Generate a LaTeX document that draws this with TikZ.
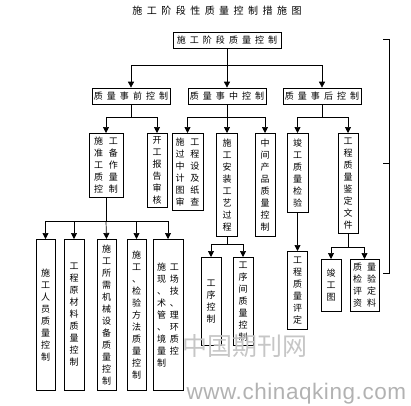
\documentclass[tikz,border=0pt]{standalone}
\usepackage{fontspec}
\setmainfont{Noto Sans CJK SC}[WordSpace=2]
\newfontfamily\webfont{Liberation Sans}[LetterSpace=2.5]
\usepackage{tikz}
\usetikzlibrary{arrows.meta, positioning}

\begin{document}
\begin{tikzpicture}[x=1pt, y=-1pt,
  qbox/.style={draw, line width=0.7pt, align=center, inner sep=1pt,
    font=\fontsize{9}{12}\selectfont, anchor=north},
  hbox/.style={qbox, minimum width=78pt, minimum height=16pt, anchor=center},
  arr/.style={-{Triangle[width=6pt, length=6pt]}, line width=0.7pt},
  mark line/.style={line width=0.7pt}
]
\useasboundingbox (0,0) rectangle (411,405);

% Title
\node[font=\fontsize{10}{12}\selectfont] (title) at (217,11)
  {施 工 阶 段 性 质 量 控 制 措 施 图};

% Top level
\node[hbox, minimum width=108pt] (top) at (227,40) {施 工 阶 段 质 量 控 制};

% Second level
\node[hbox] (pre)  at (131,96) {质 量 事 前 控 制};
\node[hbox] (mid)  at (227,96) {质 量 事 中 控 制};
\node[hbox] (post) at (322,96) {质 量 事 后 控 制};

% Third level
\node[qbox, minimum width=34pt, minimum height=64pt] (prep) at (106,133)
  {施\hspace{6pt}工\\准\hspace{6pt}备\\工\hspace{6pt}作\\质\hspace{6pt}量\\控\hspace{6pt}制};
\node[qbox, minimum width=20pt, minimum height=74pt] (start) at (157,133)
  {开\\工\\报\\告\\审\\核};
\node[qbox, minimum width=31pt, minimum height=77pt] (design) at (187.5,133)
  {施\hspace{6pt}工\\过\hspace{6pt}程\\中\hspace{6pt}设\\计\hspace{6pt}及\\图\hspace{6pt}纸\\审\hspace{6pt}查};
\node[qbox, minimum width=21pt, minimum height=103pt] (install) at (227,133)
  {施\\工\\安\\装\\工\\艺\\过\\程};
\node[qbox, minimum width=20pt, minimum height=103pt] (product) at (265,133)
  {中\\间\\产\\品\\质\\量\\控\\制};
\node[qbox, minimum width=21pt, minimum height=79pt] (check) at (297.5,133)
  {竣\\工\\质\\量\\检\\验};
\node[qbox, minimum width=20pt, minimum height=100pt] (appraise) at (348,133)
  {工\\程\\质\\量\\鉴\\定\\文\\件};

% Fourth level
\node[qbox, minimum width=19pt, minimum height=151pt] (staff) at (45.5,239)
  {施\\工\\人\\员\\质\\量\\控\\制};
\node[qbox, minimum width=20pt, minimum height=151pt] (material) at (74,239)
  {工\\程\\原\\材\\料\\质\\量\\控\\制};
\node[qbox, minimum width=19pt, minimum height=151pt] (machine) at (106.5,239)
  {施\\工\\所\\需\\机\\械\\设\\备\\质\\量\\控\\制};
\node[qbox, minimum width=19pt, minimum height=151pt] (method) at (136.5,239)
  {施\\工\\、\\检\\验\\方\\法\\质\\量\\控\\制};
\node[qbox, minimum width=30pt, minimum height=151pt] (site) at (168,239)
  {施\hspace{4pt}工\\现\hspace{4pt}场\\、\hspace{4pt}技\\术\hspace{4pt}、\\管\hspace{4pt}理\\、\hspace{4pt}环\\境\hspace{4pt}质\\量\hspace{4pt}控\\制\hspace{4pt}\phantom{控}};
\node[qbox, minimum width=20pt, minimum height=88pt] (proc) at (211,257)
  {工\\序\\控\\制};
\node[qbox, minimum width=20pt, minimum height=88pt] (between) at (243,257)
  {工\\序\\间\\质\\量\\控\\制};
\node[qbox, minimum width=20pt, minimum height=78pt] (rating) at (297.5,251)
  {工\\程\\质\\量\\评\\定};
\node[qbox, minimum width=20pt, minimum height=52pt] (drawing) at (331,259)
  {竣\\工\\图};
\node[qbox, minimum width=29pt, minimum height=52pt] (records) at (364.5,259)
  {质\hspace{5pt}量\\检\hspace{5pt}验\\评\hspace{5pt}定\\资\hspace{5pt}料};

% Branch points
\coordinate (b1) at (227,65);
\coordinate (b2) at (131,117);
\coordinate (b3) at (227,117);
\coordinate (b4) at (322,117);
\coordinate (b5) at (106,221);
\coordinate (b6) at (227,244);
\coordinate (b7) at (348,247);

% Connectors
\draw[arr] (top.south) -- (b1) -| (pre.north);
\draw[arr] (b1) -- (mid.north);
\draw[arr] (b1) -| (post.north);

\draw[arr] (pre.south) -- (b2) -| (prep.north);
\draw[arr] (b2) -| (start.north);

\draw[arr] (mid.south) -- (b3) -| (design.north);
\draw[arr] (b3) -- (install.north);
\draw[arr] (b3) -| (product.north);

\draw[arr] (post.south) -- (b4) -| (check.north);
\draw[arr] (b4) -| (appraise.north);

\draw[arr] (prep.south) -- (b5) -| (staff.north);
\draw[arr] (b5) -| (material.north);
\draw[arr] (b5) -- (machine.north);
\draw[arr] (b5) -| (method.north);
\draw[arr] (b5) -| (site.north);

\draw[arr] (install.south) -- (b6) -| (proc.north);
\draw[arr] (b6) -| (between.north);

\draw[arr] (check.south) -- (rating.north);

\draw[arr] (appraise.south) -- (b7) -| (drawing.north);
\draw[arr] (b7) -| (records.north);

% Right bracket
\draw[mark line] (383,39) -- (389,39) -- (389,273) -- (383,273);
\draw[mark line] (383,163) -- (389,163);

% Watermark
\node[font=\fontsize{25}{28}\selectfont, text=gray!45] (wmark) at (245,346)
  {中国期刊网};
\node[font=\webfont\fontsize{22.5}{26}\selectfont, text=gray!60, anchor=base west]
  (wsite) at (183,399) {www.chinaqking.com};

\end{tikzpicture}
\end{document}
